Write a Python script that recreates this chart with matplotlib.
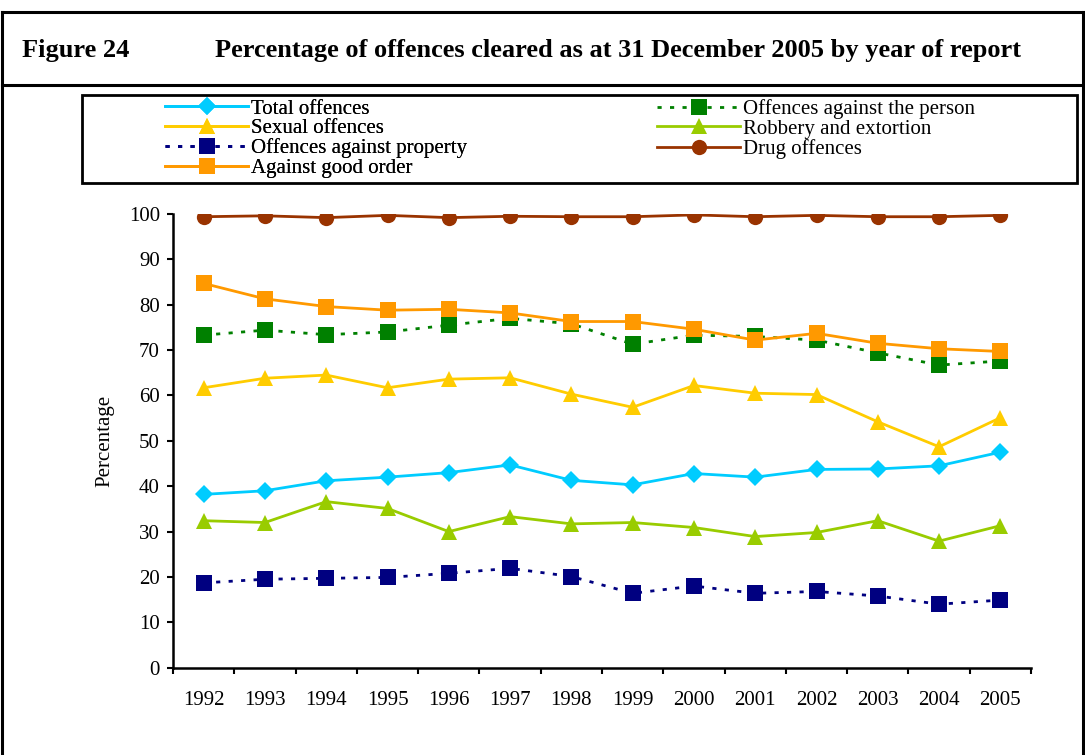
import matplotlib
matplotlib.use("Agg")
import matplotlib.pyplot as plt
from matplotlib.lines import Line2D
import numpy as np

years = [str(y) for y in range(1992, 2006)]

total = [38.2, 39.0, 41.2, 42.0, 43.0, 44.7, 41.3, 40.3, 42.8, 42.0, 43.7, 43.8, 44.5, 47.5]
person = [73.3, 74.4, 73.4, 74.0, 75.5, 77.0, 75.8, 71.3, 73.3, 73.0, 72.2, 69.4, 66.7, 67.6]
sexual = [61.7, 63.8, 64.5, 61.7, 63.6, 63.9, 60.3, 57.4, 62.2, 60.5, 60.2, 54.2, 48.7, 55.1]
robbery = [32.4, 32.0, 36.6, 35.1, 30.0, 33.3, 31.7, 32.0, 30.9, 28.9, 29.8, 32.4, 27.9, 31.3]
property_ = [18.7, 19.5, 19.7, 19.9, 20.8, 21.9, 20.1, 16.4, 18.0, 16.4, 16.8, 15.8, 14.0, 14.9]
drug = [99.4, 99.6, 99.2, 99.7, 99.2, 99.5, 99.4, 99.4, 99.8, 99.4, 99.7, 99.4, 99.4, 99.7]
good_order = [84.7, 81.3, 79.6, 78.8, 79.0, 78.2, 76.3, 76.3, 74.6, 72.2, 73.7, 71.5, 70.3, 69.7]

plt.rcParams['font.family'] = ['Liberation Serif', 'DejaVu Serif']

fig = plt.figure(figsize=(10.85, 7.55), dpi=100)
ax = fig.add_axes([173 / 1085, 1 - 667.7 / 755, 858 / 1085, 453.7 / 755])

x = np.arange(len(years))
dot = (0, (1.5, 3))
series = [
    ('Total offences', total, '#00CCFF', 'D', 9, '-'),
    ('Offences against the person', person, '#008000', 's', 12, dot),
    ('Sexual offences', sexual, '#FFCC00', '^', 12, '-'),
    ('Robbery and extortion', robbery, '#99CC00', '^', 12, '-'),
    ('Offences against property', property_, '#000080', 's', 12, dot),
    ('Drug offences', drug, '#993300', 'o', 11, '-'),
    ('Against good order', good_order, '#FF9900', 's', 12, '-'),
]
handles = {}
for name, vals, col, mk, ms, ls in series:
    ln, = ax.plot(x, vals, color=col, marker=mk, markersize=ms, linestyle=ls,
                  linewidth=2, markeredgewidth=0, label=name)
    handles[name] = ln

ax.set_xlim(-0.5, len(years) - 0.5)
ax.set_ylim(0, 100)
ax.set_yticks(range(0, 101, 10))
ax.set_xticks(np.arange(-0.5, len(years), 1.0))
ax.set_xticklabels([])
ax.set_xticks(x, minor=True)
ax.set_xticklabels(years, minor=True)
ax.tick_params(axis='x', which='major', direction='out', length=4.5, width=1.5)
ax.tick_params(axis='x', which='minor', length=0, pad=17, labelsize=15)
ax.tick_params(axis='y', direction='out', length=4.5, width=1.5, labelsize=15, pad=5)
ax.spines['top'].set_visible(False)
ax.spines['right'].set_visible(False)
ax.spines['left'].set_linewidth(1.8)
ax.spines['bottom'].set_linewidth(1.8)
ax.set_ylabel('Percentage', fontsize=15, labelpad=10)

# legend in two columns inside a framed box
col1 = ['Total offences', 'Sexual offences', 'Offences against property', 'Against good order']
col2 = ['Offences against the person', 'Robbery and extortion', 'Drug offences']
leg_kw = dict(loc='upper left', frameon=False, fontsize=15, handlelength=4.0,
              handletextpad=0.12, labelspacing=0.01, borderpad=0, borderaxespad=0)
leg1 = fig.legend([handles[n] for n in col1], col1,
                  bbox_to_anchor=(165 / 1085, 1 - 99 / 755), **leg_kw)
fig.add_artist(leg1)
fig.legend([handles[n] for n in col2], col2,
           bbox_to_anchor=(657 / 1085, 1 - 99 / 755), **leg_kw)
fig.add_artist(plt.Rectangle((82 / 1085, 1 - 183 / 755), 995 / 1085, 88 / 755,
                             transform=fig.transFigure, fill=False,
                             edgecolor='black', linewidth=2))

# outer frame and header
lw = 2.2
fig.add_artist(Line2D([2 / 1085, 1083 / 1085], [1 - 12 / 755] * 2, color='black', lw=lw))
fig.add_artist(Line2D([2 / 1085, 1083 / 1085], [1 - 85 / 755] * 2, color='black', lw=lw))
fig.add_artist(Line2D([2 / 1085] * 2, [0, 1 - 12 / 755], color='black', lw=lw))
fig.add_artist(Line2D([1083 / 1085] * 2, [0, 1 - 12 / 755], color='black', lw=lw))
fig.text(22 / 1085, 1 - 51 / 755, 'Figure 24', fontsize=19, fontweight='bold', va='center')
fig.text(215 / 1085, 1 - 51 / 755,
         'Percentage of offences cleared as at 31 December 2005 by year of report',
         fontsize=19, fontweight='bold', va='center')

fig.savefig('out.png', dpi=100)
